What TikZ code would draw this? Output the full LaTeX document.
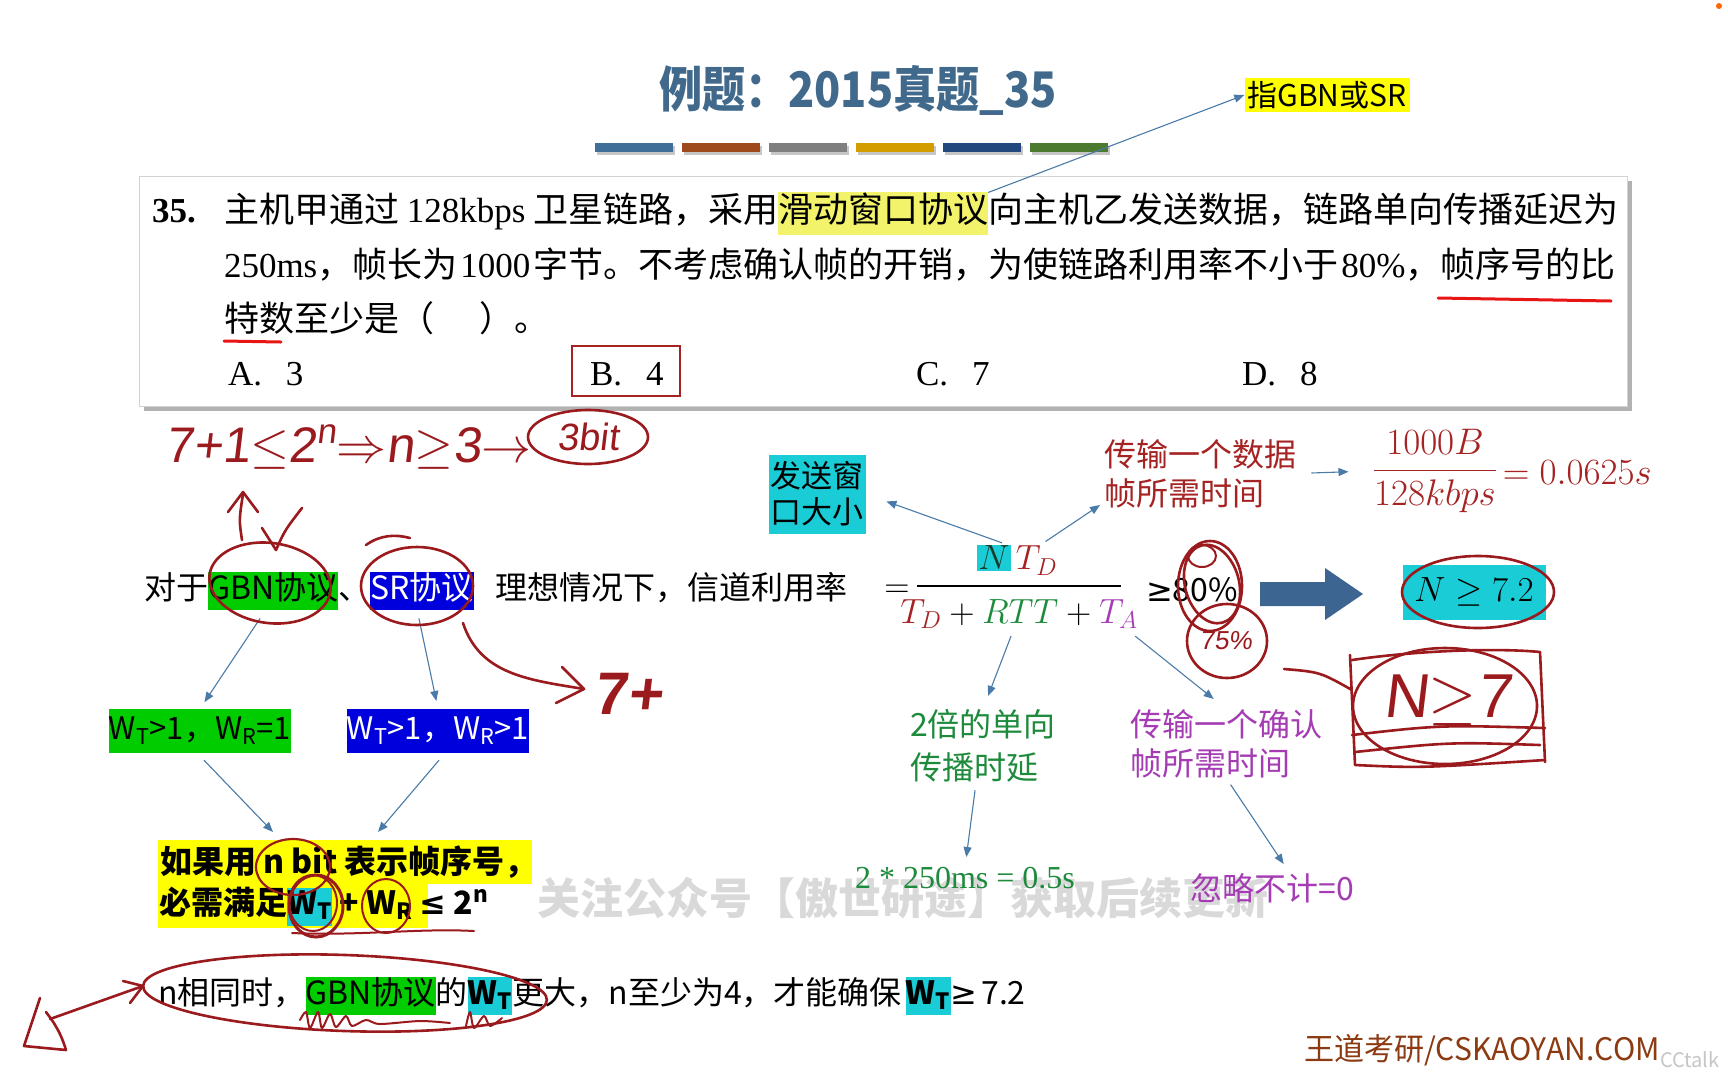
\RequirePackage{fix-cm}
\documentclass[tikz,border=0pt]{standalone}
\usepackage[no-math]{fontspec}
\setmainfont{Noto Sans CJK SC}
\newfontfamily\tm{Liberation Serif}
\newfontfamily\sym{DejaVu Sans}
\newfontfamily\hand{Liberation Sans}[FakeSlant=0.12]
\usetikzlibrary{arrows.meta,calc}

\definecolor{titleblue}{HTML}{41698C}
\definecolor{barA}{HTML}{3F6F98}
\definecolor{barB}{HTML}{9E4A1C}
\definecolor{barC}{HTML}{7F7F7F}
\definecolor{barD}{HTML}{D39D00}
\definecolor{barE}{HTML}{23487E}
\definecolor{barF}{HTML}{4C7A2E}
\definecolor{hly}{HTML}{F3F36B}
\definecolor{ylw}{HTML}{FFFF00}
\definecolor{gbn}{HTML}{00CC00}
\definecolor{srb}{HTML}{0000DD}
\definecolor{cyanb}{HTML}{19CCD6}
\definecolor{dred}{HTML}{A52323}
\definecolor{hred}{HTML}{9A1A1E}
\definecolor{ured}{HTML}{E81515}
\definecolor{tgreen}{HTML}{1E8B3C}
\definecolor{tpurple}{HTML}{A53CB4}
\definecolor{arrblue}{HTML}{4A7BA8}
\definecolor{bigarrow}{HTML}{3D6591}
\definecolor{footbrown}{HTML}{8B3A12}
\definecolor{ndark}{HTML}{173A2A}

\newcommand\qfont{\fontsize{35}{42}\selectfont}
\newcommand\sfont{\fontsize{32}{38}\selectfont}
\newcommand\mfont{\fontsize{35}{42}\selectfont}
\newcommand\hlt[2]{{\setlength\fboxsep{0pt}\colorbox{#1}{\strut #2}}}

\tikzset{
  conn/.style={draw=arrblue, line width=1.1pt, -{Triangle[length=10pt,width=8pt]}},
  hw/.style={draw=hred, line width=2.6pt, line cap=round, line join=round},
  hwt/.style={text=hred, inner sep=0pt},
  qline/.style={font=\qfont, inner sep=0pt, outer sep=0pt, anchor=base west},
  sline/.style={font=\sfont, inner sep=0pt, outer sep=0pt, anchor=base west},
  ul/.style={draw=ured, line width=3pt, line cap=round},
  wm/.style={font=\fontsize{43}{50}\selectfont\bfseries, inner sep=0pt},
}

\begin{document}
\begin{tikzpicture}[x=1pt,y=-1pt]
\useasboundingbox (0,0) rectangle (1728,1080);
\fill[white] (0,0) rectangle (1728,1080);
\fill[orange!80!red] (1719,6) circle (3pt);

% ---- title and colour bars
\node[text=titleblue, inner sep=0pt] (title) at (858,90) {\scalebox{0.88}[1]{\fontsize{49}{56}\selectfont\bfseries 例题：2015真题\_35}};
\foreach \c [count=\i from 0] in {barA,barB,barC,barD,barE,barF}{
  \fill[gray!45] (597+87*\i,146) rectangle ++(78,9);
  \fill[\c] (595+87*\i,143) rectangle ++(78,9);
}

% ---- question box
\fill[gray!60] (144,181) rectangle (1632,411);
\node[draw=gray!35, fill=white, line width=1pt, minimum width=1488pt, minimum height=230pt,
      anchor=north west, inner sep=0pt] (qbox) at (139,176) {};

\node[qline, font=\qfont\tm\bfseries] (qnum) at (152,222) {35.};
\node[qline] (q1a) at (224,222) {主机甲通过 {\tm 128kbps} 卫星链路，采用};
\node[qline, fill=hly] (q1b) at (q1a.base east) {\strut 滑动窗口协议};
\node[qline] (q1c) at (q1b.base east) {向主机乙发送数据，链路单向传播延迟为};
\node[qline] (q2) at (224,277) {{\tm 250ms}，帧长为\hspace{3pt}{\tm 1000}\hspace{3pt}字节。不考虑确认帧的开销，为使链路利用率不小于\hspace{3pt}{\tm 80\%}，帧序号的比};
\node[qline] (q3) at (224,331) {特数至少是（\hspace{1.3em}）。};
\node[qline, font=\qfont\tm] (oa) at (228,385) {A.\hspace{24pt}3};
\node[qline, font=\qfont\tm] (ob) at (590,385) {B.\hspace{24pt}4};
\node[qline, font=\qfont\tm] (oc) at (916,385) {C.\hspace{24pt}7};
\node[qline, font=\qfont\tm] (od) at (1242,385) {D.\hspace{24pt}8};
\node[draw=dred, line width=2pt, minimum width=108pt, minimum height=50pt, inner sep=0pt] (obox) at (626,371) {};
\draw[ul] (1438,298) -- (1611,301);
\draw[ul] (224,341) -- (281,342);

\node[fill=ylw, font=\fontsize{30}{36}\selectfont, inner sep=3pt] (zhi) at (1327,95) {指GBN或SR};
\draw[conn] (q1b.north east) -- (zhi.west);

% ---- utilisation formula line
\node[sline] (m1) at (144,599) {对于};
\node[sline, fill=gbn] (gbn) at (m1.base east) {\strut GBN协议};
\node[sline] (m2) at (gbn.base east) {、};
\node[sline, fill=srb, text=white] (sr) at (m2.base east) {\strut SR协议};
\node[sline] (m3) at (495,599) {理想情况下，信道利用率};

\node[font=\mfont] (eq) at (897,591) {$=$};
\node[font=\mfont, fill=cyanb, inner sep=1pt] (nN) at (994,558) {$\color{ndark}N$};
\node[font=\mfont, text=dred, anchor=base west, inner sep=1pt] (nT) at ($(nN.base east)+(4,0)$) {$T_D$};
\draw[line width=1.6pt] (917,586) -- (1121,586);
\node[font=\mfont] (den) at (1019,614) {${\color{dred}T_D}+{\color{tgreen}RTT}+{\color{tpurple}T_A}$};
\node[font=\sfont] (ge) at (1192,590) {{\sym ≥}80\%};

\fill[bigarrow] (1260,582) -- (1325,582) -- (1325,568) -- (1363,594) -- (1325,620) -- (1325,606) -- (1260,606) -- cycle;
\node[fill=cyanb, font=\mfont, minimum width=143pt, minimum height=55pt, inner sep=0pt] (n72) at (1474,592) {$N\geq 7.2$};

\node[fill=cyanb, font=\fontsize{31}{36}\selectfont, align=center, inner sep=1pt,
      minimum width=97pt, minimum height=79pt] (fa) at (817,494) {发送窗\\口大小};
\draw[conn, shorten >=22pt] ($(nN.north)+(8,-2)$) -- (fa.east);

\node[anchor=north west, align=left, text=dred, font=\fontsize{32}{39}\selectfont, inner sep=0pt] (dr) at (1104,439) {传输一个数据\\帧所需时间};
\draw[conn, shorten <=6pt] ($(nT.north)+(4,0)$) -- ($(dr.south west)+(-4,-3)$);

\node[font=\fontsize{37}{44}\selectfont, text=dred] (fr) at (1435,471) {$\displaystyle\frac{1000B}{128kbps}$};
\node[font=\fontsize{37}{44}\selectfont, text=dred, anchor=west, inner sep=0pt] (feq) at ($(fr.east)+(2,2)$) {$= 0.0625s$};
\draw[conn, shorten <=15pt, shorten >=21pt] (dr.east) -- (fr.west);

\node[anchor=north west, align=left, text=tgreen, font=\fontsize{32}{43}\selectfont, inner sep=0pt] (gr) at (910,709) {2倍的单向\\传播时延};
\node[anchor=north west, align=left, text=tpurple, font=\fontsize{32}{39}\selectfont, inner sep=0pt] (pu) at (1130,709) {传输一个确认\\帧所需时间};
\draw[conn, shorten >=14pt] ($(den.south)+(-8,4)$) -- (gr.north);
\draw[conn, shorten >=16pt] ($(den.south east)+(-6,4)$) -- (pu.north);

% overlay note across the lower half
\node[wm, text=gray!30] (wmk) at (903,898) {关注公众号【傲世研途】获取后续更新};

\node[text=tgreen, font=\fontsize{32}{38}\selectfont\tm, inner sep=0pt] (calc) at (965,878) {2 * 250ms = 0.5s};
\node[text=tpurple, font=\sfont, inner sep=0pt] (ig) at (1272,888) {忽略不计=0};
\draw[conn, shorten <=8pt, shorten >=10pt] ($(gr.south)+(-7,0)$) -- (calc.north);
\draw[conn, shorten <=8pt, shorten >=6pt] (pu.south) -- ($(ig.north)+(15,-4)$);

% ---- window constraints
\node[fill=gbn, minimum width=179pt, minimum height=44pt, inner sep=0pt, font=\fontsize{31}{36}\selectfont] (wg) at (200,731) {W\textsubscript{T}>1，W\textsubscript{R}=1};
\node[fill=srb, text=white, minimum width=179pt, minimum height=44pt, inner sep=0pt, font=\fontsize{31}{36}\selectfont] (ws) at (438,731) {W\textsubscript{T}>1，W\textsubscript{R}>1};
\draw[conn, shorten >=8pt] ($(gbn.south)+(-13,8)$) -- (wg.north);
\draw[conn, shorten >=8pt] ($(sr.south)+(-3,8)$) -- (ws.north);

\node[fill=ylw, anchor=north west, minimum width=374pt, minimum height=44pt, inner sep=0pt,
      font=\sfont\bfseries] (yb1) at (158,840) {\makebox[370pt][l]{如果用 n bit 表示帧序号，}};
\node[fill=ylw, anchor=north west, minimum width=270pt, minimum height=44pt, inner sep=0pt,
      font=\sfont\bfseries] (yb2) at (158,884) {\makebox[268pt][l]{必需满足\hlt{cyanb}{W\textsubscript{T}} + W\textsubscript{R} {\sym\bfseries ≤} 2\textsuperscript{n}}};
\draw[conn] ($(wg.south)+(4,7)$) -- ($(yb1.north west)+(115,-8)$);
\draw[conn] ($(ws.south)+(1,7)$) -- ($(yb1.north west)+(220,-8)$);

\node[sline] (bl) at (158,1004) {n相同时，\hlt{gbn}{GBN协议}的\hlt{cyanb}{\bfseries W\textsubscript{T}}更大，n至少为4，才能确保\hspace{4pt}\hlt{cyanb}{\bfseries W\textsubscript{T}}{\sym ≥}\hspace{4pt}7.2};

% ---- footer
\node[text=footbrown, anchor=west, inner sep=0pt] (foot) at (1304,1050) {\scalebox{0.97}[1]{\fontsize{31}{36}\selectfont 王道考研/CSKAOYAN.COM}};
\node[text=gray!45, font=\fontsize{20}{24}\selectfont, inner sep=0pt] (cct) at (1690,1060) {CCtalk};

% ---- handwritten notes
\node[hwt, anchor=west, font=\fontsize{50}{56}\hand] (h1) at (165,447) {7+1$\leq$2\textsuperscript{n}$\Rightarrow$n$\geq$3$\rightarrow$};
\node[hwt, font=\fontsize{38}{44}\hand] (h3b) at (588,437) {3bit};
\draw[hw] (h3b.center) ellipse [x radius=60pt, y radius=27pt];

\draw[hw] (242,540) .. controls (239,520) .. (243,494);
\draw[hw] (228,512) -- (243,492) -- (258,512);
\draw[hw] (262,528) -- (276,550) .. controls (285,530) .. (302,508);

\draw[hw, rotate around={-8:(270,583)}] (270,583) ellipse [x radius=61pt, y radius=40pt];
\draw[hw] (417,586) ellipse [x radius=56pt, y radius=39pt];
\draw[hw] (366,545) .. controls (380,535) and (395,534) .. (410,538);
\draw[hw] (463,623) .. controls (480,675) and (530,680) .. (584,689);
\draw[hw] (562,667) -- (584,689) -- (556,703);
\node[hwt, font=\fontsize{60}{66}\hand\bfseries] (h7p) at (628,694) {7+};

\draw[hw, line width=2.2pt] (293,867) ellipse [x radius=37pt, y radius=28pt];
\draw[hw, line width=3pt] (316,906) ellipse [x radius=27pt, y radius=31pt];
\draw[hw, line width=2pt] (313,903) ellipse [x radius=24pt, y radius=28pt];
\draw[hw, line width=2pt] (386,906) ellipse [x radius=24pt, y radius=27pt];
\draw[hw, line width=2pt] (292,933) .. controls (360,936) and (420,928) .. (474,931);

\draw[hw, rotate around={-2:(345,993)}] (345,993) ellipse [x radius=202pt, y radius=38pt];
\draw[hw, line width=2pt] plot[smooth] coordinates {(300,1020) (306,1012) (310,1028) (318,1012) (322,1028) (330,1014) (336,1027) (346,1016) (352,1026) (366,1020) (380,1024) (420,1021) (450,1023)};
\draw[hw, line width=2pt] plot[smooth] coordinates {(466,1026) (470,1012) (474,1028) (484,1016) (490,1026) (502,1018)};
\draw[hw] (50,1019) -- (143,986);
\draw[hw] (123,981) -- (143,986) -- (130,1003);
\draw[hw] (40,998) -- (24,1046) -- (66,1050) .. controls (60,1030) and (52,1020) .. (46,1012);

\draw[hw] (1210,586) ellipse [x radius=32pt, y radius=45pt];
\draw[hw, rotate around={15:(1212,584)}] (1212,584) ellipse [x radius=27pt, y radius=40pt];
\draw[hw, line width=2pt] (1202,556) ellipse [x radius=14pt, y radius=11pt];
\draw[hw] (1227,641) ellipse [x radius=40pt, y radius=37pt];
\node[hwt, font=\fontsize{26}{30}\hand] (h75) at (1226,641) {75\%};

\draw[hw] (1478,592) ellipse [x radius=76pt, y radius=36pt];

\node[hwt, font=\fontsize{62}{70}\hand] (hn7) at (1447,700) {N$\geq$7};
\draw[hw] (1352,660) .. controls (1420,650) and (1500,648) .. (1540,652) -- (1545,762);
\draw[hw] (1350,655) -- (1355,765) .. controls (1420,768) .. (1545,760);
\draw[hw] (1445,706) ellipse [x radius=92pt, y radius=58pt];
\draw[hw] (1352,735) .. controls (1440,725) .. (1545,728);
\draw[hw] (1355,752) .. controls (1450,742) .. (1540,745);
\draw[hw] (1284,669) .. controls (1320,672) .. (1352,690);
\end{tikzpicture}
\end{document}
